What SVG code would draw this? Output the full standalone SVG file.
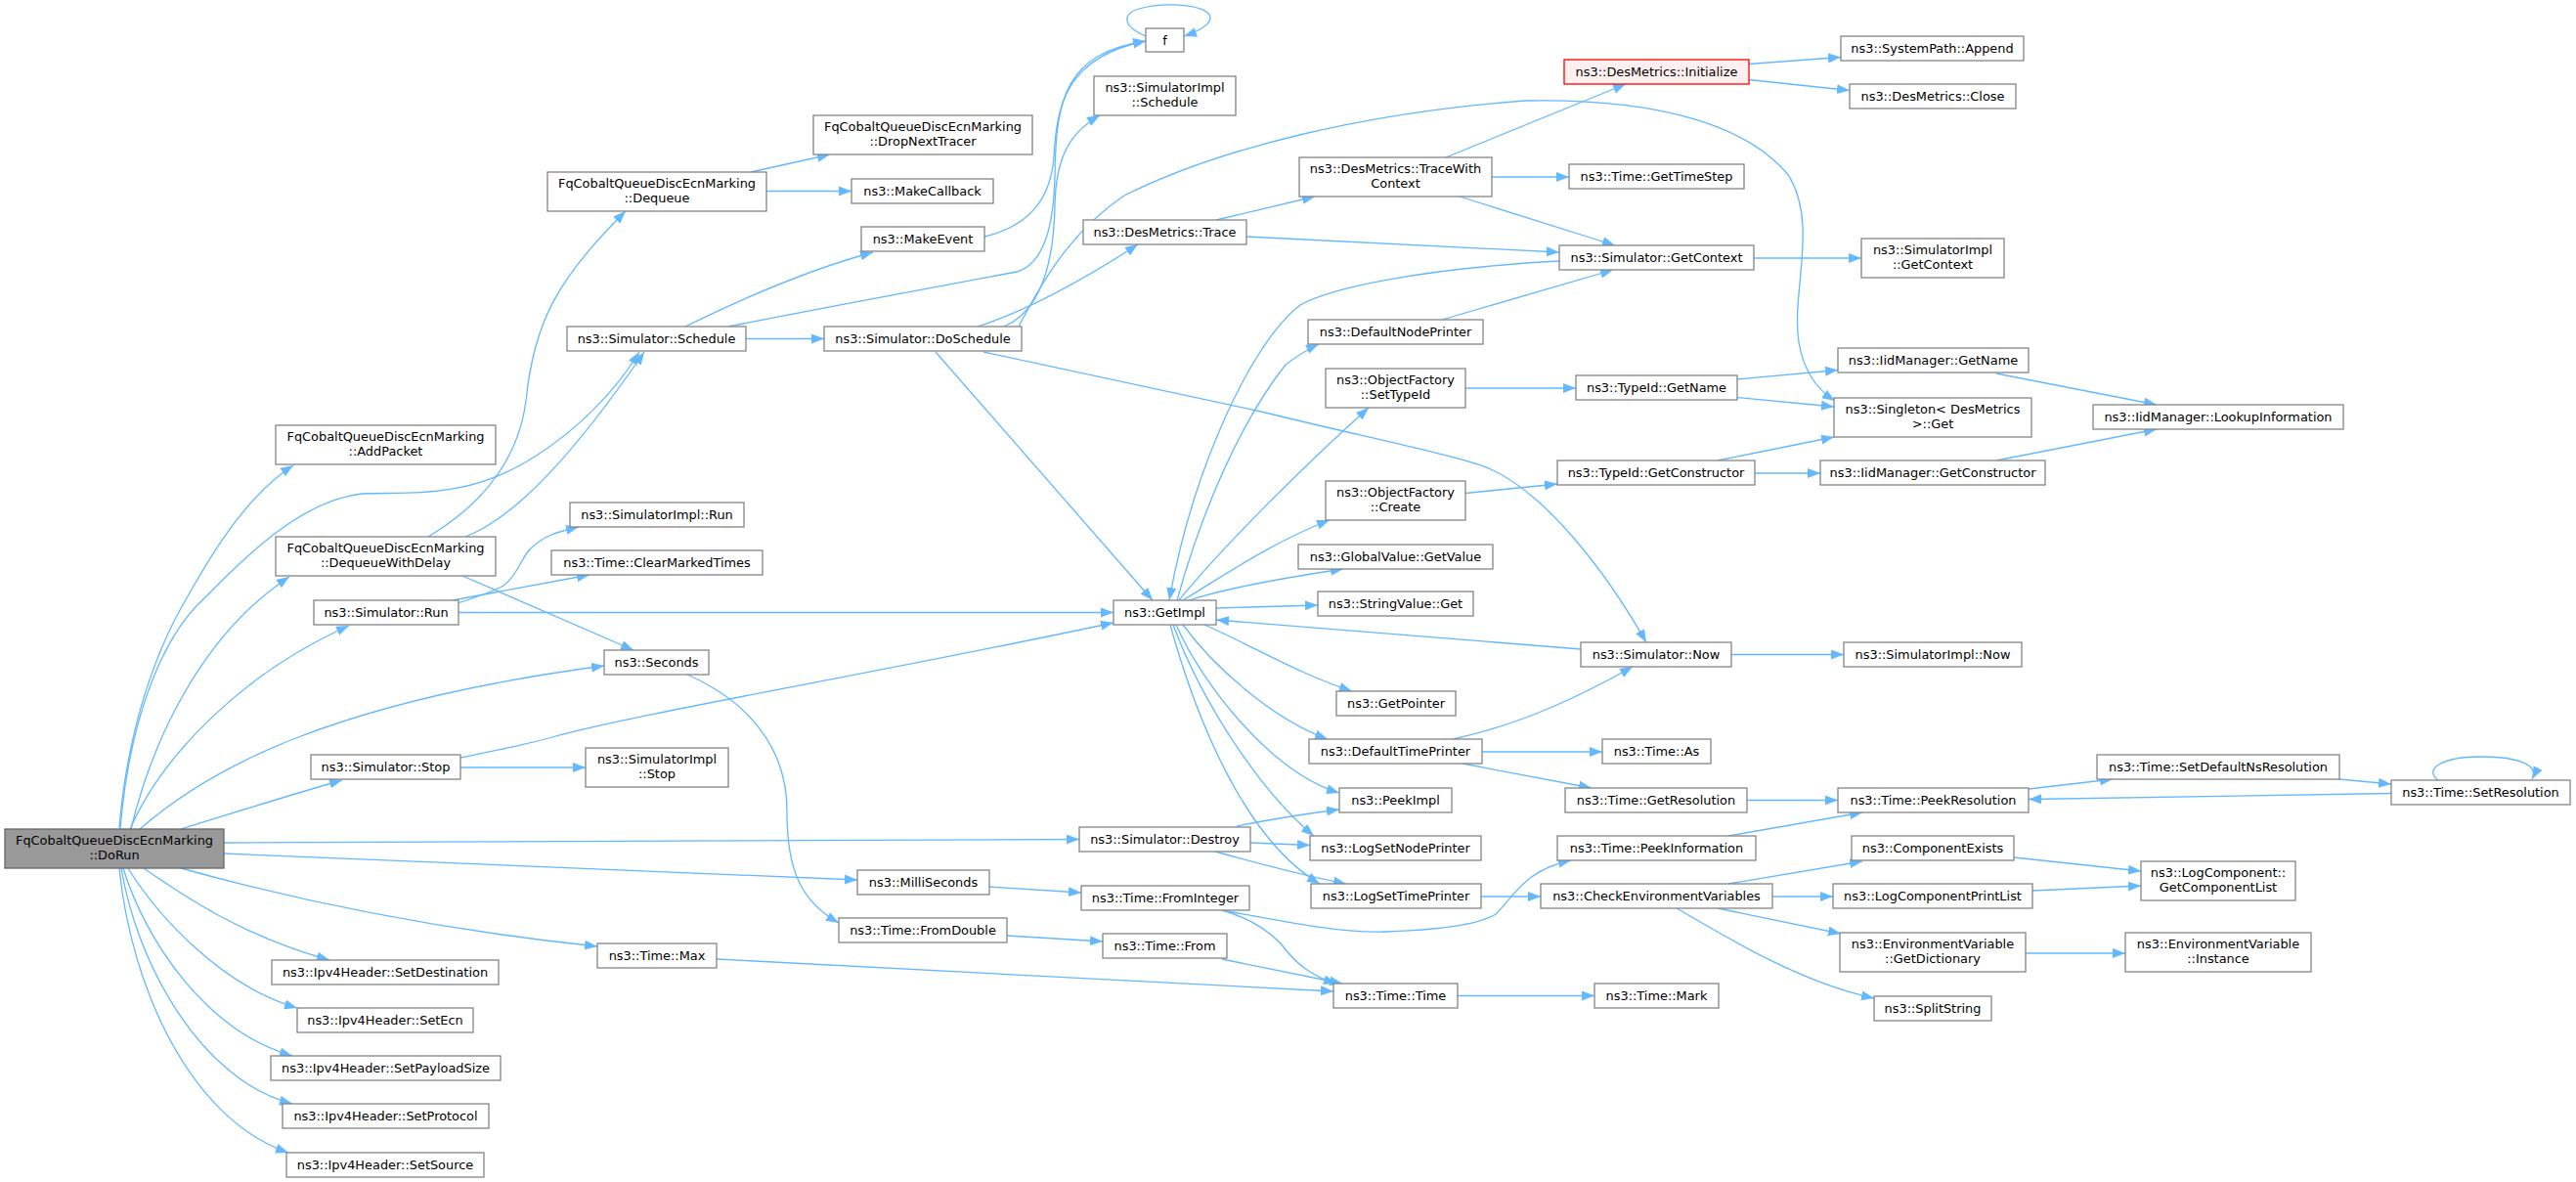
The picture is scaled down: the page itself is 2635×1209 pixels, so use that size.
<svg xmlns="http://www.w3.org/2000/svg" width="2635" height="1209" viewBox="0 0 2635 1209">
<defs>
<style>
.n rect{fill:#fff;stroke:#858585;stroke-width:1.3}
.n text{font-family:"DejaVu Sans","Liberation Sans",sans-serif;font-size:12.9px;text-anchor:middle;fill:#000}
#doRun rect{fill:#999;stroke:#666}
#initialize rect{fill:#fff0f0;stroke:#f00}
.e path{fill:none;stroke:#63b8ff;stroke-width:1.3;marker-end:url(#ah)}
</style>
<marker id="ah" markerWidth="14" markerHeight="11" refX="13" refY="5" orient="auto" markerUnits="userSpaceOnUse"><path d="M0,0 L13,5 L0,10 z" fill="#63b8ff" stroke="none"/></marker>
</defs>
<rect width="2635" height="1209" fill="#fff"/>
<g id="edges" class="e">
<path d="M122,847 C128,770 150,680 192,610 C220,560 255,505 300,476"/>
<path d="M123,848 C131,750 160,655 211,610 C255,565 310,512 370,505 C425,503 480,510 547,467 C590,440 630,400 654,360"/>
<path d="M134,848 C155,760 205,650 296,590"/>
<path d="M133,848 C165,775 245,690 357,640"/>
<path d="M143,848 C215,785 340,718 618,681"/>
<path d="M185,848 C250,828 300,812 350,798"/>
<path d="M229,862 L1104,858.5"/>
<path d="M229,873 L877,900"/>
<path d="M185,888 C300,920 440,950 611,968"/>
<path d="M147,888 C190,918 250,958 337,982"/>
<path d="M131,888 C160,935 225,1008 304,1031"/>
<path d="M126,888 C148,960 210,1055 299,1080"/>
<path d="M124,888 C140,985 205,1105 299,1129"/>
<path d="M122,888 C134,1010 195,1145 295,1179"/>
<path d="M438,549 C495,515 530,470 538,410 C546,330 570,285 640,216"/>
<path d="M476,549 C530,528 590,460 659,360"/>
<path d="M473,589 L648,665"/>
<path d="M468,617 C490,610 505,605 515,599 C528,590 533,572 541,563 C555,548 570,544 592,539"/>
<path d="M463,614 L603,588"/>
<path d="M469,626.5 L1139,626.5"/>
<path d="M471,775 C520,765 545,760 565,754 C650,730 900,688 1139,637"/>
<path d="M471,785 L599,785"/>
<path d="M703,690 C760,715 805,760 805,830 C805,892 820,922 858,944"/>
<path d="M768,176 L849,158"/>
<path d="M784,195.5 L871,195.5"/>
<path d="M701,334 C760,305 830,275 893,258"/>
<path d="M745,334 C850,313 950,295 1040,278 C1068,270 1078,230 1079,180 C1080,100 1090,55 1172,42"/>
<path d="M763,346.5 L843,346.5"/>
<path d="M1007,242 C1050,232 1075,205 1078,160 C1081,105 1092,58 1172,42"/>
<path d="M1027,334 C1065,318 1078,270 1079,210 C1080,160 1095,135 1125,118"/>
<path d="M1042,334 C1060,300 1090,240 1150,200 C1250,150 1400,115 1560,103 C1700,100 1790,130 1830,180 C1860,230 1832,300 1840,350 C1845,380 1858,398 1877,410"/>
<path d="M1000,334 C1050,318 1110,285 1164,250"/>
<path d="M957,360 L1179,614"/>
<path d="M1006,360 L1290,421 C1400,448 1500,468 1525,480 C1580,505 1640,580 1684,657"/>
<path d="M1244,225 L1345,201"/>
<path d="M1275,242 C1400,248 1500,253 1595,258"/>
<path d="M1479,161 L1663,86"/>
<path d="M1526,181 L1605,181"/>
<path d="M1493,201 L1652,251"/>
<path d="M1789,65.5 L1883,58.5"/>
<path d="M1789,81.5 L1892,92.5"/>
<path d="M1794,264 L1904,264"/>
<path d="M1595,267 C1450,275 1360,295 1330,312 C1280,350 1220,480 1196,614"/>
<path d="M1475,327 L1650,276"/>
<path d="M1204,614 C1230,520 1270,430 1315,373 C1330,362 1340,356 1349,352"/>
<path d="M1206,614 C1250,560 1330,480 1400,417"/>
<path d="M1210,614 C1250,590 1300,555 1360,532"/>
<path d="M1216,614 C1260,600 1320,590 1374,582"/>
<path d="M1244,622 L1348,619"/>
<path d="M1617,664 C1500,655 1380,645 1244,634"/>
<path d="M1232,639 C1280,660 1330,690 1383,707"/>
<path d="M1210,639 C1240,680 1300,735 1358,756"/>
<path d="M1203,639 C1230,700 1300,790 1370,811"/>
<path d="M1200,639 C1230,720 1290,810 1344,855"/>
<path d="M1197,639 C1225,740 1275,860 1350,904"/>
<path d="M1265,845 C1300,838 1330,833 1370,828"/>
<path d="M1279,862 L1340,864.5"/>
<path d="M1243,871 C1290,884 1330,895 1377,904"/>
<path d="M1771,669.5 L1886,669.5"/>
<path d="M1486,756 C1560,740 1620,710 1670,682"/>
<path d="M1516,769 L1639,769"/>
<path d="M1496,781 L1628,806"/>
<path d="M1787,818.5 L1880,818.5"/>
<path d="M1768,855 L1905,831"/>
<path d="M1515,917 L1576,917"/>
<path d="M1768,904 L1905,881"/>
<path d="M1813,917 L1875,917"/>
<path d="M1757,929 L1883,955"/>
<path d="M1715,929 C1760,955 1840,1005 1917,1021"/>
<path d="M2060,877 L2190,891"/>
<path d="M2079,911 L2190,906"/>
<path d="M2072,975 L2174,975"/>
<path d="M2075,807 L2161,797"/>
<path d="M2393,797 L2446,802"/>
<path d="M2446,811.5 L2075,817.5"/>
<path d="M2494,798 C2478,786 2500,774 2537,774 C2575,774 2598,782 2590,797"/>
<path d="M1250,931 C1300,940 1370,955 1416,953 C1480,951 1515,945 1530,935 C1550,915 1560,890 1607,880"/>
<path d="M1250,931 C1275,938 1295,950 1310,965 C1325,985 1340,998 1367,1006"/>
<path d="M1250,981 L1373,1006"/>
<path d="M733,981 L1364,1014"/>
<path d="M1491,1018.5 L1631,1018.5"/>
<path d="M1011,907 L1106,913"/>
<path d="M1030,957 L1128,963"/>
<path d="M1499,397 L1612,397"/>
<path d="M1499,504.5 L1593,495"/>
<path d="M1777,388 L1880,378.5"/>
<path d="M1777,406.5 L1876,416"/>
<path d="M1757,471 L1876,447"/>
<path d="M1795,484 L1862,484"/>
<path d="M2042,382 L2206,414"/>
<path d="M2042,471 L2206,439"/>
<path d="M1172,37 C1150,28 1146,15 1165,9 C1185,3 1220,3 1234,12 C1245,20 1232,30 1211,37"/>
</g>
<g id="doRun" class="n"><rect x="5" y="848" width="224" height="40"/><text x="117" y="864">FqCobaltQueueDiscEcnMarking</text><text x="117" y="879">::DoRun</text></g>
<g id="addPacket" class="n"><rect x="282" y="435" width="225" height="40"/><text x="394.5" y="451">FqCobaltQueueDiscEcnMarking</text><text x="394.5" y="466">::AddPacket</text></g>
<g id="dequeueWithDelay" class="n"><rect x="282" y="549" width="225" height="40"/><text x="394.5" y="565">FqCobaltQueueDiscEcnMarking</text><text x="394.5" y="580">::DequeueWithDelay</text></g>
<g id="dequeue" class="n"><rect x="560" y="176" width="224" height="40"/><text x="672" y="192">FqCobaltQueueDiscEcnMarking</text><text x="672" y="207">::Dequeue</text></g>
<g id="schedule" class="n"><rect x="580" y="334" width="183" height="25"/><text x="671.5" y="351">ns3::Simulator::Schedule</text></g>
<g id="simImplRun" class="n"><rect x="583" y="514" width="178" height="25"/><text x="672" y="531">ns3::SimulatorImpl::Run</text></g>
<g id="clearMarkedTimes" class="n"><rect x="564" y="563" width="216" height="25"/><text x="672" y="580">ns3::Time::ClearMarkedTimes</text></g>
<g id="simRun" class="n"><rect x="321" y="614" width="148" height="25"/><text x="395" y="631">ns3::Simulator::Run</text></g>
<g id="seconds" class="n"><rect x="618" y="665" width="107" height="25"/><text x="671.5" y="682">ns3::Seconds</text></g>
<g id="simStop" class="n"><rect x="318" y="772" width="153" height="25"/><text x="394.5" y="789">ns3::Simulator::Stop</text></g>
<g id="simImplStop" class="n"><rect x="599" y="765" width="146" height="40"/><text x="672" y="781">ns3::SimulatorImpl</text><text x="672" y="796">::Stop</text></g>
<g id="timeMax" class="n"><rect x="611" y="965" width="122" height="25"/><text x="672" y="982">ns3::Time::Max</text></g>
<g id="setDestination" class="n"><rect x="278" y="982" width="232" height="25"/><text x="394" y="999">ns3::Ipv4Header::SetDestination</text></g>
<g id="setEcn" class="n"><rect x="304" y="1031" width="180" height="25"/><text x="394" y="1048">ns3::Ipv4Header::SetEcn</text></g>
<g id="setPayloadSize" class="n"><rect x="277" y="1080" width="235" height="25"/><text x="394.5" y="1097">ns3::Ipv4Header::SetPayloadSize</text></g>
<g id="setProtocol" class="n"><rect x="289" y="1129" width="211" height="25"/><text x="394.5" y="1146">ns3::Ipv4Header::SetProtocol</text></g>
<g id="setSource" class="n"><rect x="293" y="1179" width="202" height="25"/><text x="394" y="1196">ns3::Ipv4Header::SetSource</text></g>
<g id="f" class="n"><rect x="1172" y="29" width="39" height="24"/><text x="1191.5" y="45.5">f</text></g>
<g id="simImplSchedule" class="n"><rect x="1119" y="78" width="145" height="40"/><text x="1191.5" y="94">ns3::SimulatorImpl</text><text x="1191.5" y="109">::Schedule</text></g>
<g id="dropNextTracer" class="n"><rect x="832" y="118" width="224" height="40"/><text x="944" y="134">FqCobaltQueueDiscEcnMarking</text><text x="944" y="149">::DropNextTracer</text></g>
<g id="makeCallback" class="n"><rect x="871" y="183" width="145" height="25"/><text x="943.5" y="200">ns3::MakeCallback</text></g>
<g id="makeEvent" class="n"><rect x="881" y="232" width="126" height="25"/><text x="944" y="249">ns3::MakeEvent</text></g>
<g id="doSchedule" class="n"><rect x="843" y="334" width="202" height="25"/><text x="944" y="351">ns3::Simulator::DoSchedule</text></g>
<g id="trace" class="n"><rect x="1108" y="225" width="167" height="25"/><text x="1191.5" y="242">ns3::DesMetrics::Trace</text></g>
<g id="getImpl" class="n"><rect x="1139" y="614" width="105" height="25"/><text x="1191.5" y="631">ns3::GetImpl</text></g>
<g id="destroy" class="n"><rect x="1104" y="846" width="175" height="25"/><text x="1191.5" y="863">ns3::Simulator::Destroy</text></g>
<g id="milliSeconds" class="n"><rect x="877" y="890" width="135" height="25"/><text x="944.5" y="907">ns3::MilliSeconds</text></g>
<g id="fromInteger" class="n"><rect x="1106" y="906" width="172" height="25"/><text x="1192" y="923">ns3::Time::FromInteger</text></g>
<g id="fromDouble" class="n"><rect x="858" y="939" width="172" height="25"/><text x="944" y="956">ns3::Time::FromDouble</text></g>
<g id="timeFrom" class="n"><rect x="1128" y="955" width="127" height="25"/><text x="1191.5" y="972">ns3::Time::From</text></g>
<g id="initialize" class="n"><rect x="1600" y="61" width="189" height="25"/><text x="1694.5" y="78">ns3::DesMetrics::Initialize</text></g>
<g id="traceWithContext" class="n"><rect x="1329" y="161" width="197" height="40"/><text x="1427.5" y="177">ns3::DesMetrics::TraceWith</text><text x="1427.5" y="192">Context</text></g>
<g id="getTimeStep" class="n"><rect x="1605" y="168" width="179" height="25"/><text x="1694.5" y="185">ns3::Time::GetTimeStep</text></g>
<g id="getContext" class="n"><rect x="1595" y="251" width="199" height="25"/><text x="1694.5" y="268">ns3::Simulator::GetContext</text></g>
<g id="defaultNodePrinter" class="n"><rect x="1338" y="327" width="179" height="25"/><text x="1427.5" y="344">ns3::DefaultNodePrinter</text></g>
<g id="setTypeId" class="n"><rect x="1356" y="377" width="143" height="40"/><text x="1427.5" y="393">ns3::ObjectFactory</text><text x="1427.5" y="408">::SetTypeId</text></g>
<g id="typeIdGetName" class="n"><rect x="1612" y="384" width="165" height="25"/><text x="1694.5" y="401">ns3::TypeId::GetName</text></g>
<g id="singletonGet" class="n"><rect x="1876" y="407" width="202" height="40"/><text x="1977" y="423">ns3::Singleton&lt; DesMetrics</text><text x="1977" y="438"> &gt;::Get</text></g>
<g id="iidGetName" class="n"><rect x="1880" y="356" width="195" height="25"/><text x="1977.5" y="373">ns3::IidManager::GetName</text></g>
<g id="typeIdGetConstructor" class="n"><rect x="1593" y="471" width="202" height="25"/><text x="1694" y="488">ns3::TypeId::GetConstructor</text></g>
<g id="iidGetConstructor" class="n"><rect x="1862" y="471" width="230" height="25"/><text x="1977" y="488">ns3::IidManager::GetConstructor</text></g>
<g id="create" class="n"><rect x="1356" y="492" width="143" height="40"/><text x="1427.5" y="508">ns3::ObjectFactory</text><text x="1427.5" y="523">::Create</text></g>
<g id="getValue" class="n"><rect x="1328" y="557" width="199" height="25"/><text x="1427.5" y="574">ns3::GlobalValue::GetValue</text></g>
<g id="stringValueGet" class="n"><rect x="1348" y="605" width="159" height="25"/><text x="1427.5" y="622">ns3::StringValue::Get</text></g>
<g id="systemPathAppend" class="n"><rect x="1883" y="37" width="187" height="25"/><text x="1976.5" y="54">ns3::SystemPath::Append</text></g>
<g id="desMetricsClose" class="n"><rect x="1892" y="86" width="170" height="25"/><text x="1977" y="103">ns3::DesMetrics::Close</text></g>
<g id="simImplGetContext" class="n"><rect x="1904" y="244" width="146" height="40"/><text x="1977" y="260">ns3::SimulatorImpl</text><text x="1977" y="275">::GetContext</text></g>
<g id="lookupInformation" class="n"><rect x="2141" y="414" width="256" height="25"/><text x="2269" y="431">ns3::IidManager::LookupInformation</text></g>
<g id="simNow" class="n"><rect x="1617" y="657" width="154" height="25"/><text x="1694" y="674">ns3::Simulator::Now</text></g>
<g id="simImplNow" class="n"><rect x="1886" y="657" width="182" height="25"/><text x="1977" y="674">ns3::SimulatorImpl::Now</text></g>
<g id="getPointer" class="n"><rect x="1367" y="707" width="122" height="25"/><text x="1428" y="724">ns3::GetPointer</text></g>
<g id="defaultTimePrinter" class="n"><rect x="1339" y="756" width="177" height="25"/><text x="1427.5" y="773">ns3::DefaultTimePrinter</text></g>
<g id="timeAs" class="n"><rect x="1639" y="756" width="111" height="25"/><text x="1694.5" y="773">ns3::Time::As</text></g>
<g id="peekImpl" class="n"><rect x="1370" y="806" width="115" height="25"/><text x="1427.5" y="823">ns3::PeekImpl</text></g>
<g id="getResolution" class="n"><rect x="1601" y="806" width="186" height="25"/><text x="1694" y="823">ns3::Time::GetResolution</text></g>
<g id="peekResolution" class="n"><rect x="1880" y="806" width="195" height="25"/><text x="1977.5" y="823">ns3::Time::PeekResolution</text></g>
<g id="logSetNodePrinter" class="n"><rect x="1340" y="855" width="175" height="25"/><text x="1427.5" y="872">ns3::LogSetNodePrinter</text></g>
<g id="peekInformation" class="n"><rect x="1593" y="855" width="203" height="25"/><text x="1694.5" y="872">ns3::Time::PeekInformation</text></g>
<g id="componentExists" class="n"><rect x="1894" y="855" width="166" height="25"/><text x="1977" y="872">ns3::ComponentExists</text></g>
<g id="logSetTimePrinter" class="n"><rect x="1341" y="904" width="174" height="25"/><text x="1428" y="921">ns3::LogSetTimePrinter</text></g>
<g id="checkEnvironmentVariables" class="n"><rect x="1576" y="904" width="237" height="25"/><text x="1694.5" y="921">ns3::CheckEnvironmentVariables</text></g>
<g id="logComponentPrintList" class="n"><rect x="1875" y="904" width="204" height="25"/><text x="1977" y="921">ns3::LogComponentPrintList</text></g>
<g id="getDictionary" class="n"><rect x="1882" y="954" width="190" height="40"/><text x="1977" y="970">ns3::EnvironmentVariable</text><text x="1977" y="985">::GetDictionary</text></g>
<g id="splitString" class="n"><rect x="1917" y="1019" width="120" height="25"/><text x="1977" y="1036">ns3::SplitString</text></g>
<g id="timeTime" class="n"><rect x="1364" y="1006" width="127" height="25"/><text x="1427.5" y="1023">ns3::Time::Time</text></g>
<g id="timeMark" class="n"><rect x="1631" y="1006" width="127" height="25"/><text x="1694.5" y="1023">ns3::Time::Mark</text></g>
<g id="setDefaultNsResolution" class="n"><rect x="2145" y="772" width="248" height="25"/><text x="2269" y="789">ns3::Time::SetDefaultNsResolution</text></g>
<g id="setResolution" class="n"><rect x="2446" y="798" width="183" height="25"/><text x="2537.5" y="815">ns3::Time::SetResolution</text></g>
<g id="getComponentList" class="n"><rect x="2190" y="881" width="158" height="40"/><text x="2269" y="897">ns3::LogComponent::</text><text x="2269" y="912">GetComponentList</text></g>
<g id="envInstance" class="n"><rect x="2174" y="954" width="190" height="40"/><text x="2269" y="970">ns3::EnvironmentVariable</text><text x="2269" y="985">::Instance</text></g>
</svg>
